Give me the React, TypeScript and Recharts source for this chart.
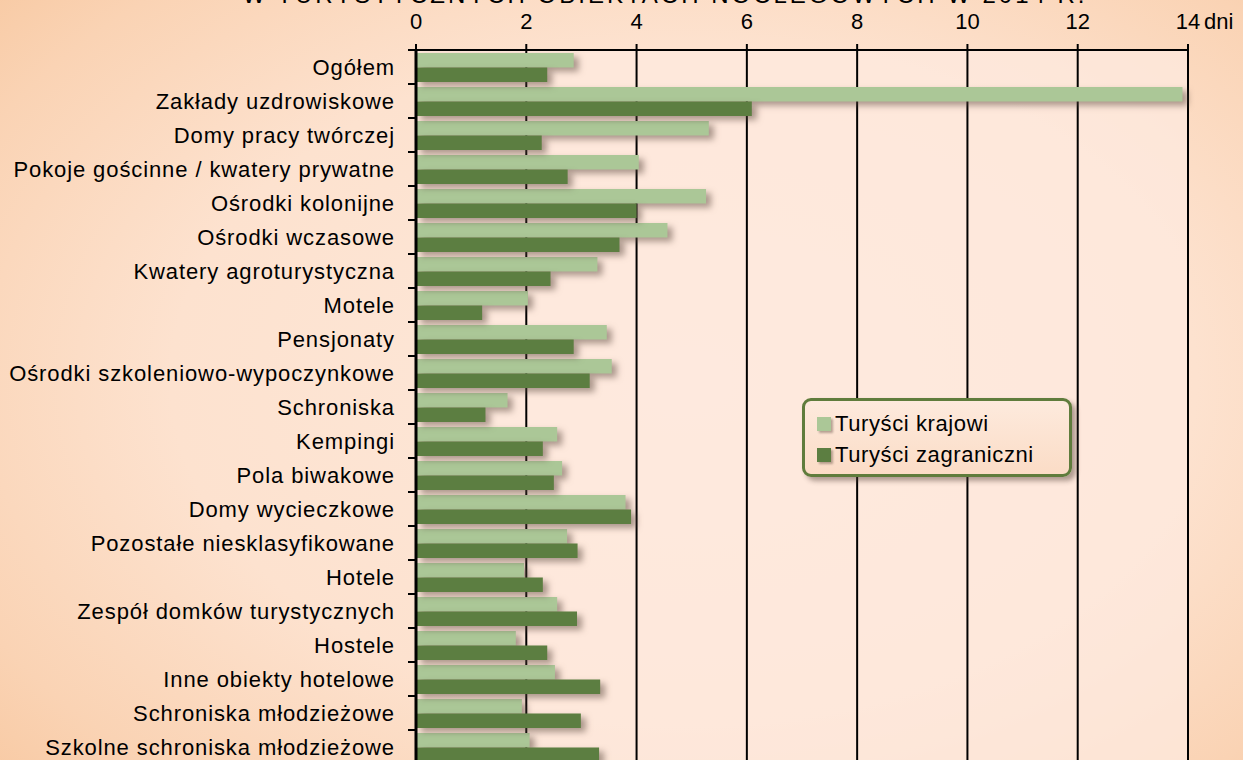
import { BarChart, Bar, XAxis, YAxis, CartesianGrid } from "recharts";

const categories: string[] = [
  "Ogółem",
  "Zakłady uzdrowiskowe",
  "Domy pracy twórczej",
  "Pokoje gościnne / kwatery prywatne",
  "Ośrodki kolonijne",
  "Ośrodki wczasowe",
  "Kwatery agroturystyczna",
  "Motele",
  "Pensjonaty",
  "Ośrodki szkoleniowo-wypoczynkowe",
  "Schroniska",
  "Kempingi",
  "Pola biwakowe",
  "Domy wycieczkowe",
  "Pozostałe niesklasyfikowane",
  "Hotele",
  "Zespół domków turystycznych",
  "Hostele",
  "Inne obiekty hotelowe",
  "Schroniska młodzieżowe",
  "Szkolne schroniska młodzieżowe",
];

const krajowi: number[] = [
  2.86, 13.9, 5.31, 4.04, 5.26, 4.56, 3.29, 2.03, 3.46, 3.55, 1.66, 2.56, 2.65, 3.8, 2.74, 1.96, 2.56,
  1.81, 2.52, 1.92, 2.06,
];

const zagraniczni: number[] = [
  2.38, 6.09, 2.28, 2.75, 4.0, 3.69, 2.44, 1.2, 2.86, 3.15, 1.26, 2.3, 2.5, 3.9, 2.93, 2.3, 2.92,
  2.38, 3.34, 2.99, 3.32,
];

const seriesNames: string[] = ["Turyści krajowi", "Turyści zagraniczni"];
const xTicks: number[] = [0, 2, 4, 6, 8, 10, 12, 14];
const unitLabel = "dni";
const title = "W TURYSTYCZNYCH OBIEKTACH NOCLEGOWYCH W 2014 R.";

const data = categories.map((name, i) => ({
  name,
  krajowi: krajowi[i],
  zagraniczni: zagraniczni[i],
}));

const W = 1243;
const H = 780;
const X_AXIS_H = 50;
const BOTTOM = 16;
const Y_TICK = 8;
const Y_MARGIN = 13;
const BAND = (H - X_AXIS_H - BOTTOM) / categories.length;

const LIGHT = "#abc797";
const DARK = "#5c7e41";
const FONT = "'Liberation Sans', Arial, sans-serif";

const YTick = (props: any) => {
  const { x, y, payload } = props;
  const ax = x + Y_MARGIN + Y_TICK;
  return (
    <g>
      <line x1={ax - Y_TICK} x2={ax} y1={y - BAND / 2} y2={y - BAND / 2} stroke="#000" strokeWidth={2} />
      <text x={x} y={y} dy="0.35em" textAnchor="end" fontSize={22} letterSpacing={0.9} fill="#000" fontFamily={FONT}>
        {payload.value}
      </text>
    </g>
  );
};

const XTick = (props: any) => {
  const { x, y, payload } = props;
  const last = payload.value === xTicks[xTicks.length - 1];
  return (
    <g>
      <text x={x} y={y} textAnchor="middle" fontSize={22} fill="#000" fontFamily={FONT}>
        {payload.value}
      </text>
      {last && (
        <text x={x + 16} y={y} textAnchor="start" fontSize={22} fill="#000" fontFamily={FONT}>
          {unitLabel}
        </text>
      )}
    </g>
  );
};

const LegendBox = () => (
  <div
    style={{
      position: "absolute",
      left: 802,
      top: 398,
      width: 252,
      height: 66,
      border: "3px solid #5f7c3c",
      borderRadius: 9,
      background: "linear-gradient(180deg, #fdeadd 0%, #fbdcc6 100%)",
      boxShadow: "4px 4px 5px rgba(80,60,50,0.45)",
      fontFamily: FONT,
      fontSize: 22,
      letterSpacing: 0.6,
      color: "#000",
      padding: "7px 0 0 12px",
    }}
  >
    {[LIGHT, DARK].map((color, i) => (
      <div key={seriesNames[i]} style={{ display: "flex", alignItems: "center", height: 31 }}>
        <span
          style={{
            width: 14,
            height: 14,
            background: color,
            display: "inline-block",
            marginRight: 4,
            boxShadow: "2px 2px 2px rgba(80,60,50,0.4)",
          }}
        />
        <span>{seriesNames[i]}</span>
      </div>
    ))}
  </div>
);

export default function App() {
  return (
    <div
      style={{
        position: "absolute",
        left: 0,
        top: 0,
        width: W,
        height: 760,
        overflow: "hidden",
        background:
          "radial-gradient(ellipse 75% 80% at 55% 50%, #fde8da 0%, #fde2cf 55%, #fad3b4 85%, #f8c9a2 100%)",
      }}
    >
      <style>{`.recharts-bar-rectangle path { filter: drop-shadow(5px 4px 3px rgba(90,70,60,0.5)); }`}</style>
      <div
        style={{
          position: "absolute",
          left: 0,
          top: -17,
          width: 1330,
          textAlign: "center",
          fontFamily: FONT,
          fontSize: 24,
          lineHeight: "24px",
          letterSpacing: 3,
          color: "#000",
        }}
      >
        {title}
      </div>
      <BarChart
        width={W}
        height={H}
        data={data}
        layout="vertical"
        margin={{ top: 0, right: 55, bottom: BOTTOM, left: 0 }}
        barGap={0}
        barSize={14.5}
      >
        <CartesianGrid horizontal={false} stroke="#000" strokeWidth={2} fill="#fdeadf" fillOpacity={0.75} />
        <XAxis
          type="number"
          orientation="top"
          domain={[0, 14]}
          ticks={xTicks}
          height={X_AXIS_H}
          axisLine={{ stroke: "#000", strokeWidth: 2 }}
          tickLine={{ stroke: "#000", strokeWidth: 2 }}
          tickSize={6}
          tickMargin={15}
          tick={<XTick />}
          interval={0}
        />
        <YAxis
          type="category"
          dataKey="name"
          width={416}
          axisLine={{ stroke: "#000", strokeWidth: 3 }}
          tickLine={false}
          tickSize={Y_TICK}
          tickMargin={Y_MARGIN}
          tick={<YTick />}
          interval={0}
        />
        <Bar dataKey="krajowi" name={seriesNames[0]} fill={LIGHT} isAnimationActive={false} />
        <Bar dataKey="zagraniczni" name={seriesNames[1]} fill={DARK} isAnimationActive={false} />
      </BarChart>
      <LegendBox />
    </div>
  );
}
